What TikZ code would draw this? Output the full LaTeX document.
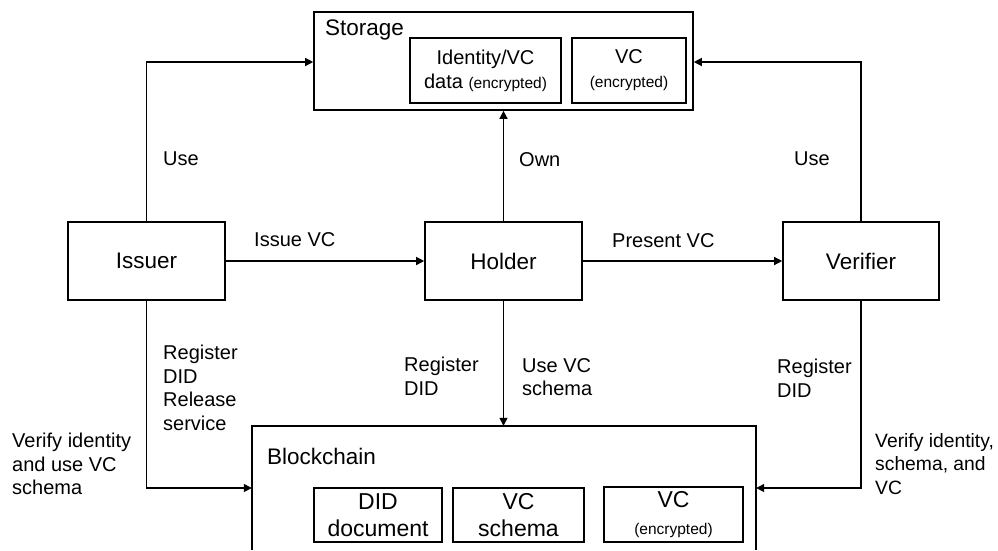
\documentclass[tikz,border=0pt]{standalone}
\usepackage{fontspec}
\setmainfont{Liberation Sans}
\usetikzlibrary{arrows.meta}
\newcommand{\fs}[2]{\fontsize{#1}{#2}\selectfont}
\newcommand{\encfont}{\fontsize{15.5}{18}\selectfont}
\begin{document}
\begin{tikzpicture}[x=1pt,y=-1pt,
  box/.style={draw,line width=1.6pt,inner sep=0pt,align=center},
  actor/.style={box,minimum width=157pt,minimum height=78pt,font=\fs{22.5}{26}},
  inbox/.style={box,font=\fs{20}{24}},
  chainbox/.style={box,font=\fs{23}{27}},
  lbl/.style={inner sep=0pt,anchor=north west,align=left,font=\fs{20}{23.5}},
  link/.style={line width=1.3pt,-{Triangle[length=8pt,width=8pt]}}]
\useasboundingbox (0,0) rectangle (998,550);

% storage and its contents
\node[box,minimum width=379pt,minimum height=98pt] (storage) at (503.5,61) {};
\node[inner sep=0pt,anchor=base west,font=\fs{22.5}{26}] (storagetitle) at (325,35) {Storage};
\node[inbox,minimum width=151pt,minimum height=65pt] (idvc) at (485.5,70.5)
  {Identity/VC\\data {\encfont(encrypted)}};
\node[inbox,minimum width=114pt,minimum height=65pt] (vcstore) at (629,70.5)
  {VC\\{\encfont(encrypted)}};

% the three roles
\node[actor] (issuer) at (146.5,261) {Issuer};
\node[actor] (holder) at (503.5,261) {Holder};
\node[actor,minimum width=156pt] (verifier) at (861,261) {Verifier};

% blockchain, open at the bottom
\node[inner sep=0pt,minimum width=504pt,minimum height=124pt] (chain) at (504,488) {};
\draw[line width=1.6pt] (chain.south west) -- (chain.north west) -- (chain.north east) -- (chain.south east);
\node[inner sep=0pt,anchor=base west,font=\fs{22.5}{26}] (chaintitle) at (267,464) {Blockchain};
\node[chainbox,minimum width=128pt,minimum height=54pt] (diddoc) at (378,515) {DID\\document};
\node[chainbox,minimum width=131pt,minimum height=54pt] (schema) at (518.5,515) {VC\\schema};
\node[chainbox,minimum width=139pt,minimum height=55pt] (vcchain) at (673.5,514.5) {VC\\{\encfont(encrypted)}};

% connectors
\coordinate (st-l) at (storage.west |- 0,62);
\coordinate (st-r) at (storage.east |- 0,62);
\coordinate (bc-l) at (chain.west |- 0,488);
\coordinate (bc-r) at (chain.east |- 0,488);
\draw[link] (issuer.north) |- (st-l);
\draw[link] (verifier.north) |- (st-r);
\draw[link] (holder.north) -- (holder.north |- storage.south);
\draw[link] (issuer.east) -- (holder.west);
\draw[link] (holder.east) -- (verifier.west);
\draw[link] (holder.south) -- (holder.south |- chain.north);
\draw[link] (issuer.south) |- (bc-l);
\draw[link] (verifier.south) |- (bc-r);

% connector labels
\node[lbl] (l-use1) at (163,152) {Use};
\node[lbl] (l-own) at (519,152) {Own};
\node[lbl] (l-use2) at (794,152) {Use};
\node[lbl] (l-issue) at (254,232) {Issue VC};
\node[lbl] (l-present) at (612,233) {Present VC};
\node[lbl] (l-regi) at (163,345) {Register\\DID\\Release\\service};
\node[lbl] (l-regh) at (404,357) {Register\\DID};
\node[lbl] (l-usevc) at (522,358) {Use VC\\schema};
\node[lbl] (l-regv) at (777,359) {Register\\DID};
\node[lbl] (l-veri) at (12,433) {Verify identity\\and use VC\\schema};
\node[lbl,font=\fs{19.3}{23.5}] (l-verv) at (875,433) {Verify identity,\\schema, and\\VC};
\end{tikzpicture}
\end{document}
